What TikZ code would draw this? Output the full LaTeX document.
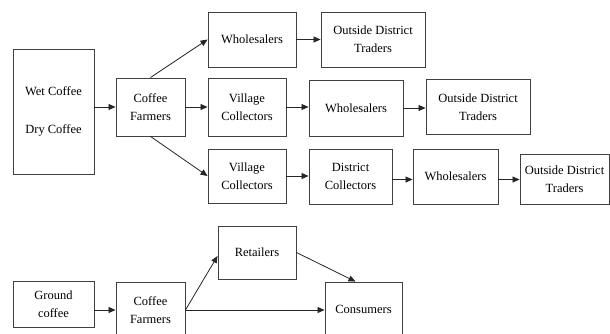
\documentclass[tikz,border=0pt]{standalone}
\usepackage{fontspec}
\setmainfont{Liberation Serif}
\usetikzlibrary{arrows.meta,calc}
\begin{document}
\begin{tikzpicture}[x=1pt,y=-1pt,
  box/.style={draw=black!75,line width=0.9pt,inner sep=0pt,align=center,
    font=\fontsize{12.5}{18}\selectfont},
  arr/.style={-{Triangle[length=7pt,width=6pt]},line width=0.8pt,black!85}]
\useasboundingbox (0,0) rectangle (610,333);
\clip (0,0) rectangle (610,333);
% top diagram
\node[box,minimum width=81,minimum height=125] (wd) at (53.5,111.5) {Wet Coffee\\[20pt]Dry Coffee};
\node[box,minimum width=69,minimum height=58] (cf) at (150.5,107) {Coffee\\Farmers};
\node[box,minimum width=88,minimum height=55] (w1) at (252,39.5) {Wholesalers};
\node[box,minimum width=104,minimum height=55] (o1) at (373,39.5) {Outside District\\Traders};
\node[box,minimum width=78,minimum height=58] (vc2) at (247,107) {Village\\Collectors};
\node[box,minimum width=94,minimum height=56] (w2) at (356,108) {Wholesalers};
\node[box,minimum width=104,minimum height=55] (o2) at (478,107) {Outside District\\Traders};
\node[box,minimum width=78,minimum height=54] (vc3) at (247,176) {Village\\Collectors};
\node[box,minimum width=83,minimum height=55] (dc) at (350.5,176.5) {District\\Collectors};
\node[box,minimum width=85,minimum height=55] (w3) at (455.5,176.5) {Wholesalers};
\node[box,minimum width=89,minimum height=50] (o3) at (564.5,179) {Outside District\\Traders};
\draw[arr] (cf.west -| wd.east) -- (cf.west);
\draw[arr] (cf.north) -- (w1.west);
\draw[arr] (cf.east) -- (cf.east -| vc2.west);
\draw[arr] (cf.south) -- (vc3.west);
\draw[arr] (w1.east) -- (o1.west);
\draw[arr] (vc2.east) -- (vc2.east -| w2.west);
\draw[arr] (w2.east) -- (w2.east -| o2.west);
\draw[arr] (vc3.east) -- (vc3.east -| dc.west);
\draw[arr] ([yshift=-3]dc.east) -- ([yshift=-3]dc.east -| w3.west);
\draw[arr] ([yshift=-3]w3.east) -- ([yshift=-3]w3.east -| o3.west);
% bottom diagram
\node[box,minimum width=81,minimum height=46] (gc) at (53.5,304) {Ground\\coffee};
\node[box,minimum width=69,minimum height=56] (cf2) at (150.5,310) {Coffee\\Farmers};
\node[box,minimum width=78,minimum height=53] (ret) at (257,252.5) {Retailers};
\node[box,minimum width=77,minimum height=54] (con) at (363.5,309) {Consumers};
\draw[arr] (cf2.west -| gc.east) -- (cf2.west);
\draw[arr] (cf2.east) -- (cf2.east -| con.west);
\draw[arr] (cf2.east) -- (ret.185);
\draw[arr] (ret.east) -- ([xshift=-8]con.north);
\end{tikzpicture}
\end{document}
